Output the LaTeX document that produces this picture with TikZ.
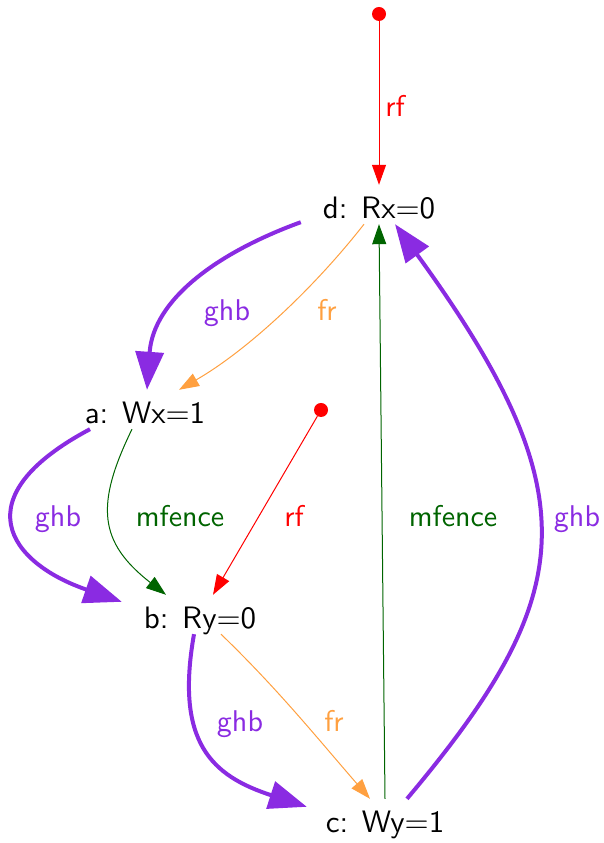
\documentclass[tikz,border=0pt]{standalone}
\usepackage{fontspec}
\setsansfont{lmsans10-regular.otf}
\usetikzlibrary{arrows.meta}
\definecolor{ghbpurple}{HTML}{8A2BE2}
\definecolor{fencegreen}{HTML}{006400}
\definecolor{frorange}{HTML}{FFA040}

\begin{document}
\begin{tikzpicture}[x=1pt, y=1pt,
  event/.style={rectangle, inner sep=0pt, minimum width=156pt, text height=34pt,
    text depth=5pt, anchor=base, font=\sffamily\fontsize{31}{36}\selectfont},
  lbl/.style={anchor=base, font=\sffamily\fontsize{30}{36}\selectfont},
  initdot/.style={circle, fill=red, inner sep=0pt, minimum size=14pt},
  rfarr/.style={draw=red, line width=1pt, -{Triangle[length=20pt, width=14pt]}},
  frarr/.style={draw=frorange, line width=1pt, -{Triangle[length=20pt, width=14pt]}},
  fencearr/.style={draw=fencegreen, line width=1pt, -{Triangle[length=20pt, width=14pt]}},
  ghbarr/.style={draw=ghbpurple, line width=4pt, -{Triangle[length=38pt, width=28pt]}}]
  \useasboundingbox (0,0) rectangle (603,843);

  % --- events ---
  \node[event] (d) at (379,624) {d: Rx=0};
  \node[event] (a) at (145,419) {a: Wx=1};
  \node[event] (b) at (200,214) {b: Ry=0};
  \node[event] (c) at (385,10) {c: Wy=1};
  % initial writes
  \node[initdot] (ix) at (379,829) {};
  \node[initdot] (iy) at (321,433) {};

  % --- reads-from ---
  \draw[rfarr] (ix) -- (d);
  \draw[rfarr] (iy) -- ([xshift=13pt]b.north);
  \node[lbl, text=red] (rfx) at (395,726) {rf};
  \node[lbl, text=red] (rfy) at (294,316) {rf};

  % --- from-reads ---
  \draw[frarr] ([xshift=-15pt]d.south) .. controls +(232:80) and +(30:80) .. ([xshift=34pt]a.north);
  \draw[frarr] ([xshift=21pt]b.south) .. controls +(316:80) and +(131:80) .. ([xshift=-15pt]c.north);
  \node[lbl, text=frorange] (frx) at (327,522) {fr};
  \node[lbl, text=frorange] (fry) at (334,111) {fr};

  % --- fences ---
  \draw[fencearr] ([xshift=-13pt]a.south) .. controls +(244:85) and +(142:85) .. ([xshift=-34pt]b.north);
  \draw[fencearr] (c.north) -- (d.south);
  \node[lbl, text=fencegreen] (mfab) at (180,316) {mfence};
  \node[lbl, text=fencegreen] (mfcd) at (453,316) {mfence};

  % --- ghb ---
  \draw[ghbarr] ([yshift=2pt]d.south west) .. controls +(200:90) and +(86:90) .. ([xshift=2pt]a.north);
  \draw[ghbarr] ([xshift=-55pt]a.south) .. controls +(208:145) and +(161:120) .. ([yshift=-7pt]b.north west);
  \draw[ghbarr] ([xshift=-6pt]b.south) .. controls +(260:110) and +(162:100) .. ([yshift=-8pt]c.north west);
  \draw[ghbarr] ([xshift=22pt]c.north) .. controls +(50:264) and +(306:337) .. ([xshift=16pt]d.south);
  \node[lbl, text=ghbpurple] (ghbda) at (227,522) {ghb};
  \node[lbl, text=ghbpurple] (ghbab) at (58,316) {ghb};
  \node[lbl, text=ghbpurple] (ghbbc) at (240,111) {ghb};
  \node[lbl, text=ghbpurple] (ghbcd) at (577,316) {ghb};
\end{tikzpicture}
\end{document}
